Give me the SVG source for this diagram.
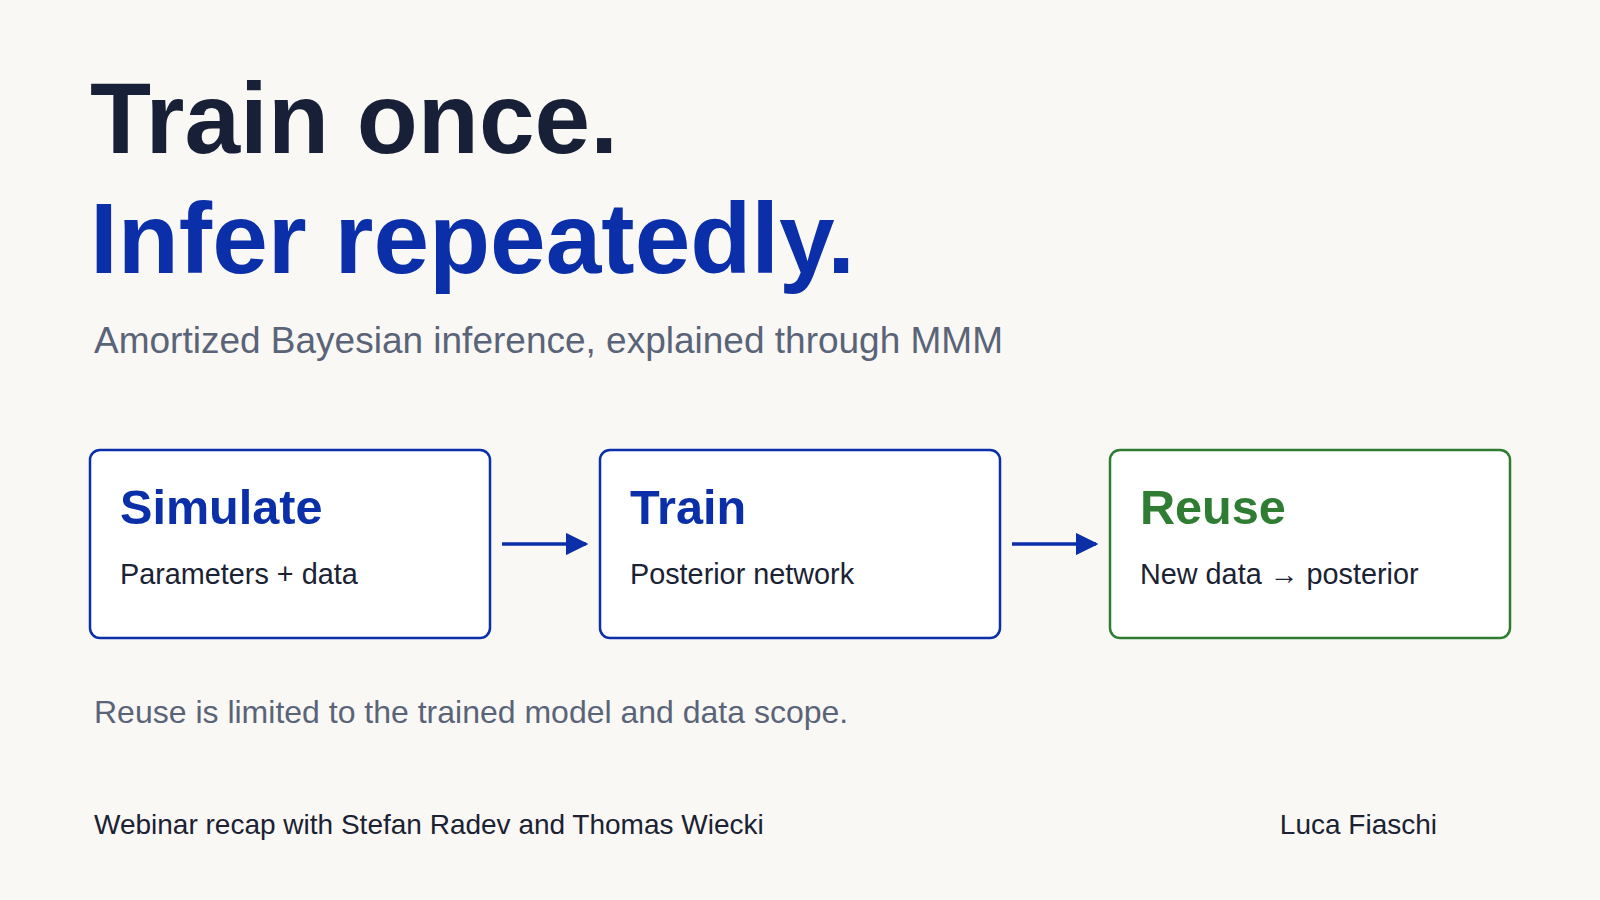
<svg xmlns="http://www.w3.org/2000/svg" width="1600" height="900" viewBox="0 0 1600 900">
<style>
text{font-family:"Liberation Sans",Arial,sans-serif}
.box{fill:#fff;stroke:#0a2fa8;stroke-width:2.5}
.g{stroke:#2e7d32}
.bt{font-size:48.6px;font-weight:bold;fill:#0a2fa8}
.bs{font-size:28.8px;fill:#1a2233}
.conn{stroke:#0a2fa8;stroke-width:3.5;fill:none}
</style>
<defs><marker id="ah" viewBox="0 0 10 10" refX="9" refY="5" markerWidth="6.5" markerHeight="6.5" orient="auto" markerUnits="strokeWidth"><path d="M0,0 L10,5 L0,10 z" fill="#0a2fa8"/></marker></defs>
<rect width="1600" height="900" fill="#faf8f5"/>
<text x="90" y="153" font-size="100" font-weight="bold" fill="#172036">Train once.</text>
<text x="90" y="273" font-size="100" font-weight="bold" fill="#0a2fa8">Infer repeatedly.</text>
<text x="94" y="353" font-size="37" fill="#5a6478">Amortized Bayesian inference, explained through MMM</text>
<g id="simulate"><rect class="box" x="90" y="450" width="400" height="188" rx="10"/><text class="bt" x="120" y="524">Simulate</text><text class="bs" x="120" y="584">Parameters + data</text></g>
<g id="train"><rect class="box" x="600" y="450" width="400" height="188" rx="10"/><text class="bt" x="630" y="524">Train</text><text class="bs" x="630" y="584">Posterior network</text></g>
<g id="reuse"><rect class="box g" x="1110" y="450" width="400" height="188" rx="10"/><text class="bt" x="1140" y="524" style="fill:#2e7d32">Reuse</text><text class="bs" x="1140" y="584">New data → posterior</text></g>
<g id="connectors"><line class="conn" x1="502" y1="544" x2="586" y2="544" marker-end="url(#ah)"/><line class="conn" x1="1012" y1="544" x2="1096" y2="544" marker-end="url(#ah)"/></g>
<text x="94" y="723" font-size="32" fill="#5a6478">Reuse is limited to the trained model and data scope.</text>
<text x="94" y="834" font-size="28" fill="#1a2233">Webinar recap with Stefan Radev and Thomas Wiecki</text>
<text x="1437" y="834" font-size="28" fill="#1a2233" text-anchor="end">Luca Fiaschi</text>
</svg>
